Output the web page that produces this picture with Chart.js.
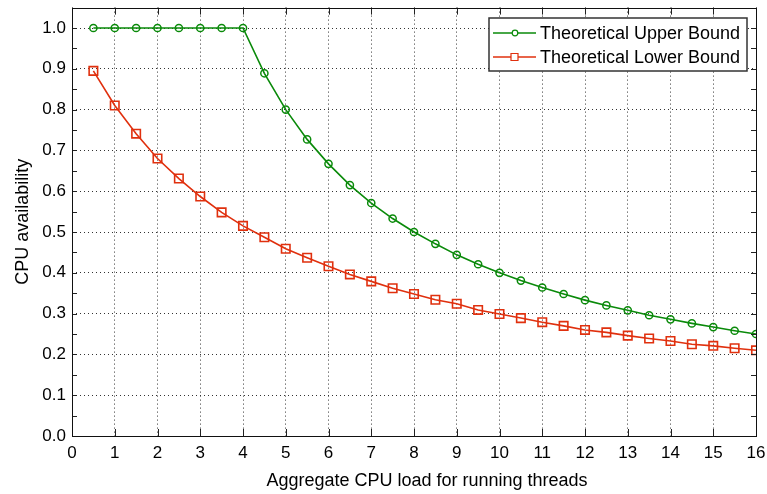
<!DOCTYPE html>
<html>
<head>
<meta charset="utf-8">
<script src="https://cdn.jsdelivr.net/npm/chart.js@4/dist/chart.umd.min.js"></script>
<style>
  html, body { margin: 0; padding: 0; background: #fff; }
  #wrap { width: 767px; height: 494px; }
</style>
</head>
<body>
<div id="wrap"><canvas id="cpuChart" width="767" height="494"></canvas></div>
<script>
// Data
const loadValues = [0.5, 1, 1.5, 2, 2.5, 3, 3.5, 4, 4.5, 5, 5.5, 6, 6.5, 7, 7.5, 8,
                    8.5, 9, 9.5, 10, 10.5, 11, 11.5, 12, 12.5, 13, 13.5, 14, 14.5, 15, 15.5, 16];
const upperBound = [1, 1, 1, 1, 1, 1, 1, 1, 0.889, 0.8, 0.727, 0.667, 0.615, 0.571, 0.533, 0.5,
                    0.471, 0.444, 0.421, 0.4, 0.381, 0.364, 0.348, 0.333, 0.32, 0.308, 0.296, 0.286, 0.276, 0.267, 0.258, 0.25];
const lowerBound = [0.895, 0.81, 0.741, 0.68, 0.631, 0.587, 0.548, 0.515, 0.487, 0.459, 0.437, 0.416, 0.396, 0.379, 0.362, 0.348,
                    0.334, 0.324, 0.309, 0.299, 0.289, 0.279, 0.27, 0.26, 0.254, 0.246, 0.239, 0.233, 0.225, 0.221, 0.215, 0.21];
const xTicks = [0, 1, 2, 3, 4, 5, 6, 7, 8, 9, 10, 11, 12, 13, 14, 15, 16];
const yTicks = [0, 0.1, 0.2, 0.3, 0.4, 0.5, 0.6, 0.7, 0.8, 0.9, 1.0];
const yMinorTicks = [0.05, 0.15, 0.25, 0.35, 0.45, 0.55, 0.65, 0.75, 0.85, 0.95, 1.05];
const xTitle = 'Aggregate CPU load for running threads';

const FONT = '"Liberation Sans", Arial, Helvetica, sans-serif';
const GREEN = '#0a8a0a';
const RED = '#e0300e';

function toPoints(ys) {
    return loadValues.map((x, i) => ({ x: x, y: ys[i] }));
}

// inward ticks + frame, matlab style
const framePlugin = {
    id: 'frame',
    afterDatasetsDraw(chart) {
        const { ctx, chartArea: a, scales } = chart;
        ctx.save();
        ctx.strokeStyle = '#222';
        ctx.lineWidth = 1;
        ctx.beginPath();
        xTicks.forEach(v => {
            const px = Math.round(scales.x.getPixelForValue(v)) + 0.5;
            ctx.moveTo(px, a.bottom); ctx.lineTo(px, a.bottom - 7);
            ctx.moveTo(px, a.top); ctx.lineTo(px, a.top + 7);
        });
        yTicks.concat(yMinorTicks).forEach(v => {
            const py = Math.round(scales.y.getPixelForValue(v)) + 0.5;
            ctx.moveTo(a.left, py); ctx.lineTo(a.left + 5, py);
            ctx.moveTo(a.right, py); ctx.lineTo(a.right - 5, py);
        });
        ctx.stroke();
        ctx.strokeStyle = '#111';
        ctx.strokeRect(Math.round(a.left) + 0.5, Math.round(a.top) + 0.5,
                       Math.round(a.right - a.left), Math.round(a.bottom - a.top));

        // x axis title (sits a bit right of the axis centre in the original)
        ctx.fillStyle = '#000';
        ctx.font = '18px ' + FONT;
        ctx.textAlign = 'center';
        ctx.textBaseline = 'middle';
        ctx.fillText(xTitle, (a.left + a.right) / 2 + 13, 481);
        ctx.restore();
    }
};

// legend box in upper right corner
const legendPlugin = {
    id: 'boxLegend',
    afterDraw(chart) {
        const { ctx } = chart;
        const box = { x: 489, y: 18, w: 258, h: 53 };
        ctx.save();
        ctx.fillStyle = '#fff';
        ctx.fillRect(box.x, box.y, box.w, box.h);
        ctx.strokeStyle = '#333';
        ctx.lineWidth = 1.5;
        ctx.strokeRect(box.x, box.y, box.w, box.h);
        ctx.font = '18px ' + FONT;
        ctx.textBaseline = 'middle';
        chart.data.datasets.forEach((ds, i) => {
            const cy = box.y + 15 + i * 24;
            ctx.strokeStyle = ds.borderColor;
            ctx.lineWidth = 1.5;
            ctx.beginPath();
            ctx.moveTo(box.x + 4, cy); ctx.lineTo(box.x + 47, cy);
            ctx.stroke();
            ctx.lineWidth = 1.2;
            ctx.beginPath();
            if (ds.pointStyle === 'rect') {
                ctx.rect(box.x + 22, cy - 3.5, 7, 7);
            } else {
                ctx.arc(box.x + 26, cy, 2.8, 0, Math.PI * 2);
            }
            ctx.fillStyle = '#fff';
            ctx.fill();
            ctx.stroke();
            ctx.fillStyle = '#000';
            ctx.fillText(ds.label, box.x + 51, cy + 1);
        });
        ctx.restore();
    }
};

const ctx = document.getElementById('cpuChart').getContext('2d');
const myChart = new Chart(ctx, {
    type: 'line',
    data: {
        datasets: [
            {
                label: 'Theoretical Upper Bound',
                data: toPoints(upperBound),
                borderColor: GREEN,
                borderWidth: 1.6,
                pointStyle: 'circle',
                pointRadius: 3.6,
                pointBorderWidth: 1.5,
                pointBackgroundColor: 'rgba(0,0,0,0)',
                pointBorderColor: GREEN,
                tension: 0
            },
            {
                label: 'Theoretical Lower Bound',
                data: toPoints(lowerBound),
                borderColor: RED,
                borderWidth: 1.6,
                pointStyle: 'rect',
                pointRadius: 6,
                pointBorderWidth: 1.6,
                pointBackgroundColor: 'rgba(0,0,0,0)',
                pointBorderColor: RED,
                tension: 0
            }
        ]
    },
    options: {
        responsive: false,
        animation: false,
        layout: { padding: { left: 0, top: 4, right: 11, bottom: 0 } },
        plugins: { legend: { display: false }, tooltip: { enabled: false } },
        scales: {
            x: {
                type: 'linear',
                min: 0,
                max: 16,
                afterBuildTicks: s => { s.ticks = xTicks.map(v => ({ value: v })); },
                afterFit: s => { s.height = 58; s.paddingLeft = 0; s.paddingRight = 0; },
                ticks: {
                    color: '#000',
                    padding: 7,
                    maxRotation: 0,
                    autoSkip: false,
                    font: { family: FONT, size: 17 }
                },
                grid: { color: '#333', lineWidth: 1, drawTicks: false },
                border: { display: false, dash: [1, 3] }
            },
            y: {
                min: 0,
                max: 1.05,
                afterBuildTicks: s => { s.ticks = yTicks.map(v => ({ value: v })); },
                afterFit: s => { s.width = 72; s.paddingTop = 0; s.paddingBottom = 0; },
                ticks: {
                    color: '#000',
                    padding: 6,
                    autoSkip: false,
                    font: { family: FONT, size: 17 },
                    callback: v => Number(v).toFixed(1)
                },
                grid: { color: '#333', lineWidth: 1, drawTicks: false },
                border: { display: false, dash: [1, 3] },
                title: {
                    display: true,
                    text: 'CPU availability',
                    color: '#000',
                    font: { family: FONT, size: 18 },
                    padding: { top: 12, bottom: 0 }
                }
            }
        }
    },
    plugins: [framePlugin, legendPlugin]
});
</script>
</body>
</html>
